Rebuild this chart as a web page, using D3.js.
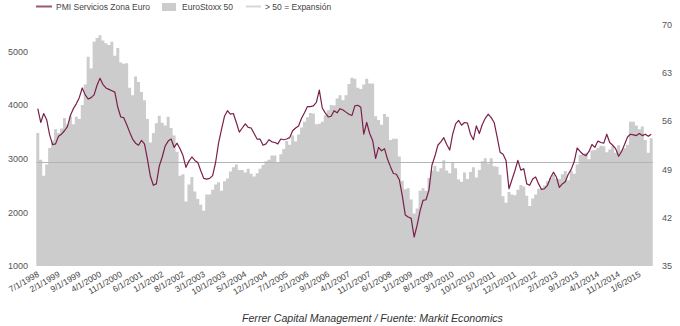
<!DOCTYPE html>
<html>
<head>
<meta charset="utf-8">
<script src="https://cdn.jsdelivr.net/npm/d3@7/dist/d3.min.js"></script>
<style>
  html, body { margin: 0; padding: 0; background: #fff; }
  svg { display: block; font-family: "Liberation Sans", Arial, sans-serif; }
</style>
</head>
<body>
<div id="chart"></div>
<script>
// ---- DATA ----
// Monthly categories, first of month, from July 1998 to October 2015
const startYear = 1998, startMonth = 7, nMonths = 208;
const categories = d3.range(nMonths).map(i => {
  const m = (startMonth - 1 + i) % 12 + 1;
  const y = startYear + Math.floor((startMonth - 1 + i) / 12);
  return m + "/1/" + y;
});

// PMI Servicios Zona Euro (right axis)
const pmi = [
  57.8, 55.8, 57.1, 56.2, 54.0, 52.6,
  52.7, 53.8, 54.1, 54.6, 55.2, 56.8, 57.8, 58.5, 59.4, 60.8, 59.8, 59.2,
  59.4, 59.8, 61.2, 62.2, 61.3, 60.8, 60.6, 60.4, 60.2, 58.0, 56.6, 56.5,
  55.5, 54.4, 53.4, 52.8, 52.5, 53.2, 52.7, 50.5, 48.0, 46.7, 46.9, 49.5,
  50.8, 52.4, 53.1, 53.4, 52.2, 52.8, 52.0, 51.0, 49.3, 50.2, 50.8, 50.3,
  50.0, 48.8, 47.7, 47.6, 47.7, 48.1, 50.0, 52.8, 54.8, 56.7, 57.5, 57.0,
  57.1, 55.8, 54.4, 55.0, 55.6, 55.1, 55.0, 54.2, 53.4, 53.4, 52.5, 52.7,
  53.3, 53.0, 52.9, 52.7, 53.4, 53.3, 53.4, 53.6, 54.6, 55.0, 55.3, 56.4,
  57.2, 58.1, 58.1, 58.2, 58.7, 60.5, 57.9, 57.2, 56.6, 56.7, 57.5, 57.2,
  57.8, 57.6, 57.3, 57.0, 56.8, 58.2, 58.3, 58.0, 54.1, 55.8, 54.2, 53.2,
  50.6, 52.2, 51.7, 52.0, 50.5, 49.4, 48.4, 48.3, 47.5, 45.2, 42.4, 42.1,
  41.9, 39.2, 40.9, 43.0, 44.5, 44.6, 46.0, 49.6, 50.9, 52.5, 53.0, 53.6,
  52.6, 51.8, 54.1, 55.6, 56.1, 55.4, 55.8, 55.7, 54.1, 53.3, 55.3, 54.2,
  55.5, 56.4, 57.0, 56.5, 55.8, 53.7, 51.5, 51.2, 50.3, 46.2, 47.5, 48.8,
  50.3, 48.9, 49.1, 46.9, 46.7, 47.6, 47.9, 46.9, 46.1, 46.2, 46.7, 47.8,
  48.6, 47.9, 46.4, 46.9, 47.2, 48.3, 49.0, 50.1, 52.1, 51.6, 51.2, 51.0,
  51.6, 52.6, 52.2, 53.1, 52.9, 52.8, 54.1, 52.9, 52.5, 52.0, 50.9, 51.6,
  52.6, 53.7, 54.1, 54.0, 53.9, 54.2, 53.9, 54.1, 53.8, 54.1
];

// EuroStoxx 50 (left axis)
const stoxx = [
  3480, 2980, 2680, 2890, 3200, 3340,
  3550, 3480, 3560, 3760, 3640, 3790, 3640, 3780, 3740, 4000, 4380, 4900,
  4680, 5180, 5250, 5300, 5200, 5150, 5120, 5180, 4920, 5060, 4790, 4770,
  4780, 4320, 4180, 4530, 4430, 4240, 4090, 3740, 3300, 3480, 3660, 3800,
  3670, 3620, 3780, 3570, 3430, 3130, 2680, 2710, 2200, 2520, 2660, 2390,
  2250, 2140, 2030, 2330, 2330, 2420, 2520, 2560, 2400, 2580, 2630, 2760,
  2840, 2890, 2790, 2790, 2740, 2810, 2720, 2670, 2730, 2810, 2880, 2950,
  2980, 3060, 3060, 2930, 3080, 3180, 3330, 3260, 3430, 3320, 3450, 3580,
  3690, 3770, 3850, 3840, 3640, 3650, 3690, 3810, 3900, 4000, 3990, 4120,
  4180, 4090, 4180, 4390, 4510, 4490, 4320, 4300, 4380, 4490, 4400, 4400,
  3790, 3720, 3630, 3830, 3780, 3350, 3370, 3370, 3040, 2590, 2430, 2450,
  2240, 1980, 2070, 2400, 2450, 2400, 2640, 2780, 2870, 2760, 2820, 2970,
  2780, 2730, 2930, 2820, 2610, 2570, 2740, 2620, 2750, 2840, 2650, 2790,
  2950, 3010, 2910, 3010, 2860, 2850, 2700, 2300, 2180, 2380, 2330, 2320,
  2420, 2510, 2480, 2310, 2120, 2260, 2330, 2440, 2450, 2500, 2580, 2640,
  2700, 2630, 2620, 2710, 2770, 2600, 2770, 2720, 2890, 3070, 3090, 3110,
  2990, 3150, 3160, 3200, 3240, 3230, 3120, 3170, 3230, 3110, 3250, 3150,
  3200, 3260, 3690, 3690, 3620, 3550, 3600, 3350, 3110, 3380
];

const expansionLevel = 50;

const tickLabels = [
  "7/1/1998", "2/1/1999", "9/1/1999", "4/1/2000", "11/1/2000", "6/1/2001",
  "1/1/2002", "8/1/2002", "3/1/2003", "10/1/2003", "5/1/2004", "12/1/2004",
  "7/1/2005", "2/1/2006", "9/1/2006", "4/1/2007", "11/1/2007", "6/1/2008",
  "1/1/2009", "8/1/2009", "3/1/2010", "10/1/2010", "5/1/2011", "12/1/2011",
  "7/1/2012", "2/1/2013", "9/1/2013", "4/1/2014", "11/1/2014", "1/6/2015"
];
const tickEvery = 7;

const leftTicks = [1000, 2000, 3000, 4000, 5000];
const rightTicks = [35, 42, 49, 56, 63, 70];

const legendLabels = ["PMI Servicios Zona Euro", "EuroStoxx 50", "> 50 = Expansión"];
const sourceText = "Ferrer Capital Management / Fuente: Markit Economics";

// ---- LAYOUT ----
const W = 680, H = 326;
const plotL = 36.3, plotR = 652.7, plotT = 24.5, plotB = 266;
const colLine = "#7b1f4b", colBar = "#cccccc", colRef = "#b4b4b4", colText = "#555";

const svg = d3.select("#chart").append("svg").attr("width", W).attr("height", H);
svg.append("rect").attr("width", W).attr("height", H).attr("fill", "#fff");

const x = d3.scaleBand().domain(categories).range([plotL, plotR]).padding(0);
const yL = d3.scaleLinear().domain([1000, 5500]).range([plotB, plotT]);
const yR = d3.scaleLinear().domain([35, 70]).range([plotB, plotT]);
const bw = x.bandwidth();

// Bars: one rectangle per month, merged into a single step path (no seams)
const barPath = d3.path();
stoxx.forEach((v, i) => {
  const x0 = x(categories[i]), x1 = x0 + bw, yv = yL(v);
  if (i === 0) { barPath.moveTo(x0, plotB); }
  barPath.lineTo(x0, yv);
  barPath.lineTo(x1, yv);
});
barPath.lineTo(x(categories[stoxx.length - 1]) + bw, plotB);
barPath.closePath();
svg.append("path").attr("d", barPath.toString()).attr("fill", colBar);

// Reference line at 50
svg.append("line")
  .attr("x1", plotL).attr("x2", plotR)
  .attr("y1", yR(expansionLevel)).attr("y2", yR(expansionLevel))
  .attr("stroke", colRef).attr("stroke-width", 1);

// PMI line
const line = d3.line()
  .x((d, i) => x(categories[i]) + bw / 2)
  .y(d => yR(d));
svg.append("path").datum(pmi).attr("d", line)
  .attr("fill", "none").attr("stroke", colLine).attr("stroke-width", 1.2)
  .attr("stroke-linejoin", "round");

// Left axis
const axL = d3.axisLeft(yL).tickValues(leftTicks).tickSize(0).tickPadding(0).tickFormat(d3.format("d"));
const gL = svg.append("g").attr("transform", `translate(28,0)`).call(axL);
gL.select(".domain").remove();
gL.selectAll("text").attr("fill", colText).attr("font-size", 9).attr("font-family", "Liberation Sans, Arial, sans-serif");

// Right axis
const axR = d3.axisRight(yR).tickValues(rightTicks).tickSize(0).tickPadding(0);
const gR = svg.append("g").attr("transform", `translate(662,0)`).call(axR);
gR.select(".domain").remove();
gR.selectAll("text").attr("fill", colText).attr("font-size", 9).attr("font-family", "Liberation Sans, Arial, sans-serif");

// X labels
const gX = svg.append("g");
tickLabels.forEach((lab, k) => {
  const c = categories[k * tickEvery];
  const cx = x(c) + bw / 2;
  gX.append("text")
    .attr("transform", `translate(${cx + 2},${plotB + 10}) rotate(-30)`)
    .attr("text-anchor", "end")
    .attr("font-size", 8.5)
    .attr("fill", "#444")
    .text(lab);
});

// Legend
const lg = svg.append("g").attr("font-size", 8.5).attr("fill", "#444");
lg.append("line").attr("x1", 36).attr("x2", 52).attr("y1", 6.5).attr("y2", 6.5)
  .attr("stroke", colLine).attr("stroke-width", 2).attr("opacity", 0.75);
lg.append("text").attr("x", 56).attr("y", 9.8).text(legendLabels[0]);
lg.append("rect").attr("x", 162).attr("y", 3).attr("width", 14).attr("height", 8).attr("fill", colBar);
lg.append("text").attr("x", 182).attr("y", 9.8).text(legendLabels[1]);
lg.append("line").attr("x1", 246).attr("x2", 261).attr("y1", 6.5).attr("y2", 6.5)
  .attr("stroke", "#d6d6d6").attr("stroke-width", 2);
lg.append("text").attr("x", 265).attr("y", 9.8).text(legendLabels[2]);

// Source
svg.append("text").attr("x", 242).attr("y", 321.5)
  .attr("font-size", 10.6).attr("font-style", "italic").attr("fill", "#333")
  .text(sourceText);
</script>
</body>
</html>
